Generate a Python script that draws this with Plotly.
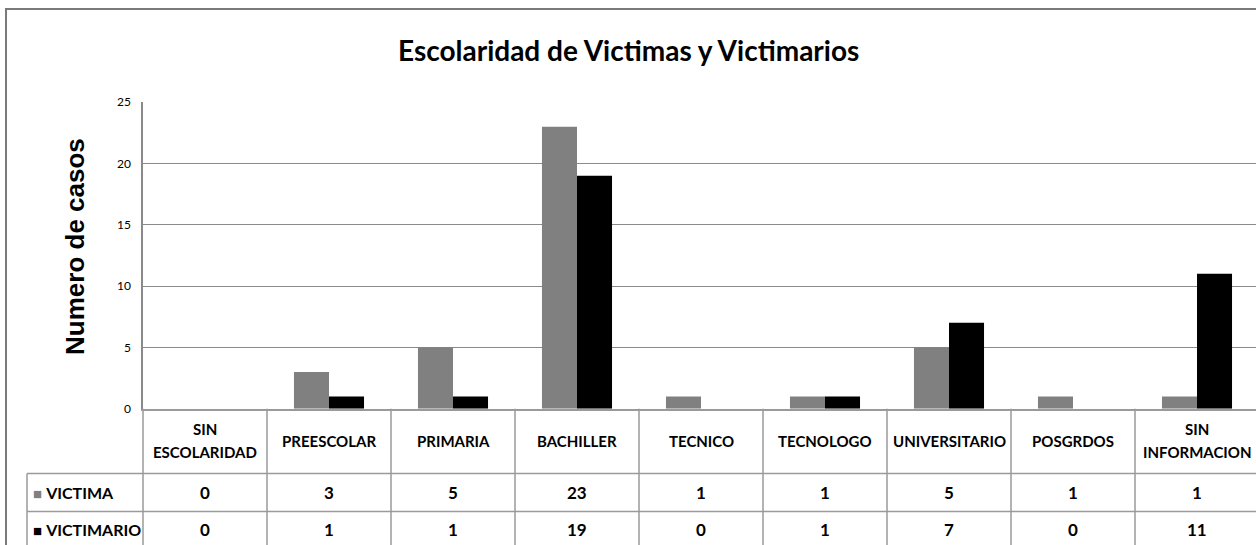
import plotly.graph_objects as go

# ---------------- data ----------------
categories = ["SIN ESCOLARIDAD", "PREESCOLAR", "PRIMARIA", "BACHILLER", "TECNICO",
              "TECNOLOGO", "UNIVERSITARIO", "POSGRDOS", "SIN INFORMACION"]
header_labels = [["SIN", "ESCOLARIDAD"], ["PREESCOLAR"], ["PRIMARIA"], ["BACHILLER"], ["TECNICO"],
                 ["TECNOLOGO"], ["UNIVERSITARIO"], ["POSGRDOS"], ["SIN", "INFORMACION"]]
victima = [0, 3, 5, 23, 1, 1, 5, 1, 1]
victimario = [0, 1, 1, 19, 0, 1, 7, 0, 11]
series_names = ["VICTIMA", "VICTIMARIO"]
series_colors = ["#808080", "#000000"]
y_ticks = [0, 5, 10, 15, 20, 25]

title_text = "Escolaridad de Victimas y Victimarios"
y_title = "Numero de casos"

# ---------------- layout geometry (target pixels) ----------------
W, H = 1256, 545
PLOT_L, PLOT_T, PLOT_B = 143, 102, 409
CAT_W = 124
ROW_LINES = [474, 512]
ROW_CENTERS = [493, 530]
LABEL_COL_L = 27
HEADER_CY = 441
HEADER_LINE_GAP = 23
# vertical calibration of the capture (measured in earlier renders)
Y_OFF, Y_SCALE = 7.7, 0.974


def px(x):
    return x / W


def py(y):
    y_page = (y - Y_OFF) / Y_SCALE
    return 1 - y_page / H


FONT = "Lato"
GRID = "#8a8a8a"
TABLE_LINE = "#9a9a9a"

fig = go.Figure()
for name, vals, col in zip(series_names, [victima, victimario], series_colors):
    fig.add_trace(go.Bar(
        x=categories, y=vals, name=name,
        marker=dict(color=col, line=dict(width=0)),
        hoverinfo="skip",
    ))

n = len(categories)
x_range_end = -0.5 + (W - PLOT_L) / CAT_W

shapes = []
# outer chart border
shapes.append(dict(type="rect", xref="paper", yref="paper",
                   x0=px(6), x1=1.05, y0=-0.05, y1=1 - 1.0 / H,
                   line=dict(color="#7a7a7a", width=2), fillcolor="rgba(0,0,0,0)", layer="below"))
# left boundary of table (continuation of y axis)
shapes.append(dict(type="line", xref="paper", yref="paper",
                   x0=px(PLOT_L), x1=px(PLOT_L), y0=py(PLOT_B), y1=-0.05,
                   line=dict(color=TABLE_LINE, width=1.5)))
# category boundaries
for i in range(n):
    shapes.append(dict(type="line", xref="x", yref="paper",
                       x0=i + 0.5, x1=i + 0.5, y0=py(PLOT_B), y1=-0.05,
                       line=dict(color=TABLE_LINE, width=1.5)))
# row label column left border
shapes.append(dict(type="line", xref="paper", yref="paper",
                   x0=px(LABEL_COL_L), x1=px(LABEL_COL_L), y0=py(ROW_LINES[0]), y1=-0.05,
                   line=dict(color=TABLE_LINE, width=1.5)))
# table horizontal lines
for yl in ROW_LINES:
    shapes.append(dict(type="line", xref="paper", yref="paper",
                       x0=px(LABEL_COL_L), x1=1.05, y0=py(yl), y1=py(yl),
                       line=dict(color=TABLE_LINE, width=1.5)))

annotations = []
annotations.append(dict(text="<b>" + title_text + "</b>", xref="paper", yref="paper",
                        x=0.5, y=py(50), xanchor="center", yanchor="middle", showarrow=False,
                        font=dict(family=FONT, size=28, color="#000")))
annotations.append(dict(text="<b>" + y_title + "</b>", xref="paper", yref="paper",
                        x=px(75), y=py(247), xanchor="center", yanchor="middle", showarrow=False,
                        textangle=-90,
                        font=dict(family="Liberation Sans", size=26, color="#000")))
for cat, lines in zip(categories, header_labels):
    k = len(lines)
    for j, line in enumerate(lines):
        cy = HEADER_CY + (j - (k - 1) / 2) * HEADER_LINE_GAP
        annotations.append(dict(text="<b>" + line + "</b>", xref="x", yref="paper",
                                x=cat, y=py(cy), xanchor="center", yanchor="middle",
                                showarrow=False,
                                font=dict(family=FONT, size=15, color="#000")))
for r, (name, vals, col) in enumerate(zip(series_names, [victima, victimario], series_colors)):
    annotations.append(dict(
        text="<span style='color:%s;font-size:15px'>■</span> <b>%s</b>" % (col, name),
        xref="paper", yref="paper", x=px(31), y=py(ROW_CENTERS[r]),
        xanchor="left", yanchor="middle", showarrow=False,
        font=dict(family=FONT, size=16, color="#000")))
    for cat, v in zip(categories, vals):
        annotations.append(dict(text="<b>%d</b>" % v, xref="x", yref="paper",
                                x=cat, y=py(ROW_CENTERS[r]), xanchor="center", yanchor="middle",
                                showarrow=False,
                                font=dict(family=FONT, size=17, color="#000")))

fig.update_layout(
    width=W, height=H,
    margin=dict(l=0, r=0, t=0, b=0),
    paper_bgcolor="white", plot_bgcolor="white",
    barmode="group", bargap=0.435, bargroupgap=0,
    showlegend=False,
    hovermode=False,
    xaxis=dict(domain=[px(PLOT_L), 1.0], range=[-0.5, x_range_end],
               type="category", categoryorder="array", categoryarray=categories,
               showticklabels=False, ticks="", showgrid=False, zeroline=False,
               showline=True, linecolor=TABLE_LINE, linewidth=1.5, fixedrange=True),
    yaxis=dict(domain=[py(PLOT_B), py(PLOT_T)], range=[0, 25],
               tickvals=y_ticks, ticks="", showgrid=True, gridcolor=GRID, gridwidth=1,
               zeroline=False, showline=True, linecolor=GRID, linewidth=1.5,
               ticklabelstandoff=8,
               tickfont=dict(family=FONT, size=12, color="#000"), fixedrange=True),
    shapes=shapes,
    annotations=annotations,
)

fig.write_html(
    "out.html",
    config={"displayModeBar": False},
    post_script=("document.documentElement.style.margin='0';"
                 "document.documentElement.style.overflow='hidden';"
                 "document.body.style.margin='0';"
                 "document.body.style.overflow='hidden';"),
)
